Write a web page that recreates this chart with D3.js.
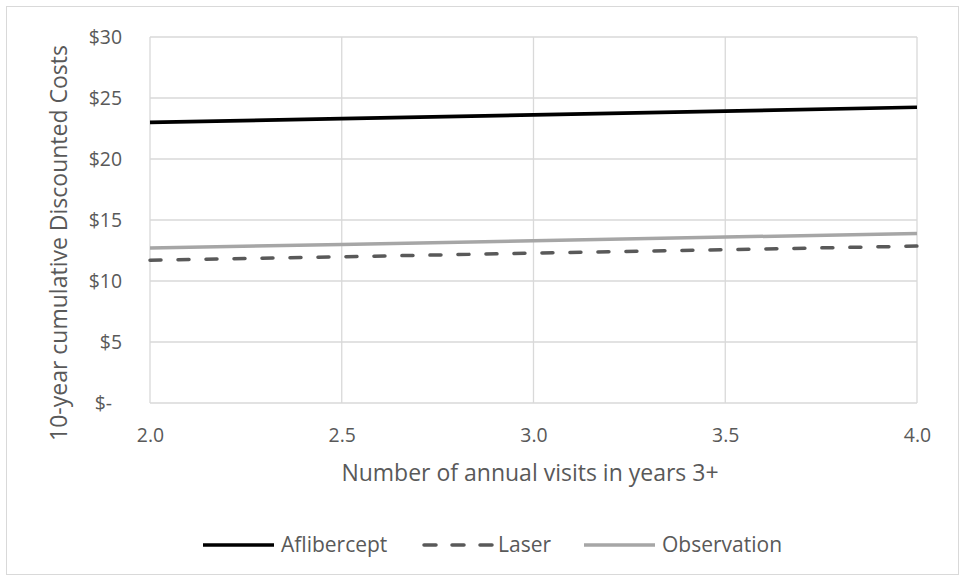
<!DOCTYPE html>
<html><head><meta charset="utf-8">
<script src="https://cdn.jsdelivr.net/npm/d3@7"></script>
<style>body{margin:0;background:#fff}svg{display:block}text{font-family:"Open Sans","Liberation Sans",sans-serif;fill:#595959}</style>
</head><body><svg id="c" width="965" height="581"></svg>
<script>
const visits = [2.0, 2.5, 3.0, 3.5, 4.0];
const aflibercept = [23.0, 23.31, 23.62, 23.93, 24.24];
const laser = [11.7, 11.99, 12.28, 12.57, 12.86];
const observation = [12.7, 13.0, 13.3, 13.6, 13.9];
const xTicks = [2.0, 2.5, 3.0, 3.5, 4.0];
const yTicks = [0, 5, 10, 15, 20, 25, 30];
const seriesNames = ["Aflibercept", "Laser", "Observation"];

const series = [
  {name: seriesNames[0], values: aflibercept, color: "#000000", dash: null, w: 3.7},
  {name: seriesNames[1], values: laser, color: "#595959", dash: "11,17", w: 3.5},
  {name: seriesNames[2], values: observation, color: "#a6a6a6", dash: null, w: 3.5}
];

const svg = d3.select("#c");
svg.append("rect").attr("x", 6.5).attr("y", 6.5).attr("width", 952).attr("height", 568)
  .attr("fill", "#fff").attr("stroke", "#d9d9d9").attr("stroke-width", 1);

const L = 150, R = 917, T = 37, B = 403;
const x = d3.scaleLinear().domain([2, 4]).range([L, R]);
const y = d3.scaleLinear().domain([0, 30]).range([B, T]);
const FONT = '"Open Sans","Liberation Sans",sans-serif';

// gridlines
const g = svg.append("g");
g.selectAll(".hg").data(yTicks).join("line")
  .attr("x1", L).attr("x2", R).attr("y1", d => y(d)).attr("y2", d => y(d))
  .attr("stroke", "#d9d9d9").attr("stroke-width", 1.3);
g.selectAll(".vg").data(xTicks).join("line")
  .attr("x1", d => x(d)).attr("x2", d => x(d)).attr("y1", T).attr("y2", B)
  .attr("stroke", "#d9d9d9").attr("stroke-width", 1.3);

// axes (labels via d3 axes)
const yAxis = d3.axisLeft(y).tickValues(yTicks).tickSize(0).tickPadding(0)
  .tickFormat(d => d === 0 ? "$-" : "$" + d);
const ya = svg.append("g").attr("transform", `translate(${L - 28},0)`).call(yAxis);
ya.select(".domain").remove();
ya.selectAll("text").attr("font-size", 19.4).attr("fill", "#595959")
  .attr("font-family", FONT).attr("dy", "0.35em")
  .attr("dx", d => d === 0 ? -10 : 0);

const xAxis = d3.axisBottom(x).tickValues(xTicks).tickSize(0).tickPadding(0)
  .tickFormat(d3.format(".1f"));
const xa = svg.append("g").attr("transform", `translate(0,${B + 25})`).call(xAxis);
xa.select(".domain").remove();
xa.selectAll("text").attr("font-size", 19.4).attr("fill", "#595959")
  .attr("font-family", FONT);

// axis titles
svg.append("text").attr("x", 530).attr("y", 481).attr("text-anchor", "middle")
  .attr("font-size", 23).text("Number of annual visits in years 3+");
svg.append("text").attr("transform", "translate(67,243) rotate(-90)").attr("text-anchor", "middle")
  .attr("font-size", 23).text("10-year cumulative Discounted Costs");

// lines
const line = d3.line().x((d, i) => x(visits[i])).y(d => y(d));
svg.selectAll(".s").data(series).join("path")
  .attr("d", d => line(d.values)).attr("fill", "none")
  .attr("stroke", d => d.color).attr("stroke-width", d => d.w)
  .attr("stroke-dasharray", d => d.dash).attr("stroke-linecap", d => d.dash ? "round" : "butt");

// legend
const legX = [203, 422, 584];
const lg = svg.selectAll(".lg").data(series).join("g")
  .attr("transform", (d, i) => `translate(${legX[i]},545)`);
lg.append("line").attr("x1", d => d.dash ? 2 : 0).attr("x2", d => d.dash ? 70 : 71).attr("y1", 0).attr("y2", 0)
  .attr("stroke", d => d.color).attr("stroke-width", d => d.w)
  .attr("stroke-dasharray", d => d.dash ? "12,16" : null).attr("stroke-linecap", d => d.dash ? "round" : "butt");
lg.append("text").attr("x", d => d.dash ? 76 : 78).attr("y", 0).attr("dy", "0.33em").attr("font-size", 21)
  .text(d => d.name);
</script></body></html>
